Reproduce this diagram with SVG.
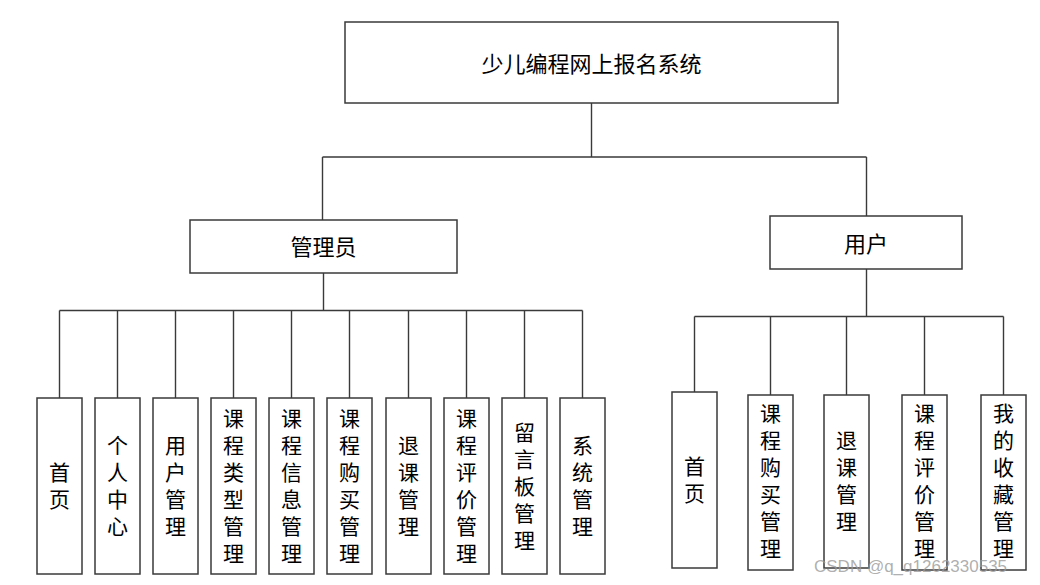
<svg xmlns="http://www.w3.org/2000/svg" width="1040" height="585" viewBox="0 0 1040 585">
<style>
  .box{fill:#ffffff;stroke:#3a3a3a;stroke-width:1.5}
  .ln{fill:none;stroke:#3a3a3a;stroke-width:1.4}
  .t{font-family:"Noto Sans CJK SC","Liberation Sans",sans-serif;font-size:22px;fill:#000;text-anchor:middle;dominant-baseline:central}
  .v{font-family:"Noto Sans CJK SC","Liberation Sans",sans-serif;font-size:21px;fill:#000;text-anchor:middle;writing-mode:vertical-rl;letter-spacing:6px}
  .wm{font-family:"Liberation Sans",Arial,sans-serif;font-size:17px;fill:#9a9a9a;fill-opacity:0.8}
</style>
<rect width="1040" height="585" fill="#ffffff"/>
<g id="connectors">
  <path class="ln" d="M591.5 103 V157 M322.5 157 H866.5 M322.5 157 V220 M866.5 157 V216"/>
  <path class="ln" d="M323.5 273 V310.5 M59.5 310.5 H582.5"/>
  <path class="ln" d="M59.5 310.5 V398 M117.5 310.5 V398 M175.5 310.5 V398 M233.5 310.5 V398 M291.5 310.5 V398 M349.5 310.5 V398 M408.5 310.5 V398 M466.5 310.5 V398 M524.5 310.5 V398 M582.5 310.5 V398"/>
  <path class="ln" d="M866.5 269 V316.5 M694.5 316.5 H1003.5"/>
  <path class="ln" d="M694.5 316.5 V392 M770.5 316.5 V395 M846.5 316.5 V395 M924.5 316.5 V395 M1003.5 316.5 V395"/>
</g>
<g id="root">
  <rect class="box" x="345" y="22" width="493" height="81"/>
  <text class="t" x="591.5" y="62">少儿编程网上报名系统</text>
</g>
<g id="admin">
  <rect class="box" x="190" y="220" width="267" height="53"/>
  <text class="t" x="323.5" y="245">管理员</text>
</g>
<g id="user">
  <rect class="box" x="770" y="216" width="192" height="53"/>
  <text class="t" x="866" y="242">用户</text>
</g>
<g id="a-home">
  <rect class="box" x="37" y="398" width="45" height="176"/>
  <text class="v" x="59.5" y="489">首页</text>
</g>
<g id="a-center">
  <rect class="box" x="95" y="398" width="45" height="176"/>
  <text class="v" x="117.5" y="489">个人中心</text>
</g>
<g id="a-user">
  <rect class="box" x="153" y="398" width="45" height="176"/>
  <text class="v" x="175.5" y="489">用户管理</text>
</g>
<g id="a-coursetype">
  <rect class="box" x="211" y="398" width="45" height="176"/>
  <text class="v" x="233.5" y="489">课程类型管理</text>
</g>
<g id="a-courseinfo">
  <rect class="box" x="269" y="398" width="45" height="176"/>
  <text class="v" x="291.5" y="489">课程信息管理</text>
</g>
<g id="a-purchase">
  <rect class="box" x="327" y="398" width="45" height="176"/>
  <text class="v" x="349.5" y="489">课程购买管理</text>
</g>
<g id="a-refund">
  <rect class="box" x="386" y="398" width="45" height="176"/>
  <text class="v" x="408.5" y="489">退课管理</text>
</g>
<g id="a-review">
  <rect class="box" x="444" y="398" width="45" height="176"/>
  <text class="v" x="466.5" y="489">课程评价管理</text>
</g>
<g id="a-board">
  <rect class="box" x="502" y="398" width="45" height="176"/>
  <text class="v" x="524.5" y="489">留言板管理</text>
</g>
<g id="a-system">
  <rect class="box" x="560" y="398" width="45" height="176"/>
  <text class="v" x="582.5" y="489">系统管理</text>
</g>
<g id="u-home">
  <rect class="box" x="672" y="392" width="45" height="176"/>
  <text class="v" x="694.5" y="483">首页</text>
</g>
<g id="u-purchase">
  <rect class="box" x="748" y="395" width="45" height="175"/>
  <text class="v" x="770.5" y="484">课程购买管理</text>
</g>
<g id="u-refund">
  <rect class="box" x="824" y="395" width="45" height="173"/>
  <text class="v" x="846.5" y="484">退课管理</text>
</g>
<g id="u-review">
  <rect class="box" x="902" y="395" width="45" height="175"/>
  <text class="v" x="924.5" y="484">课程评价管理</text>
</g>
<g id="u-favorite">
  <rect class="box" x="981" y="395" width="45" height="175"/>
  <text class="v" x="1003.5" y="484">我的收藏管理</text>
</g>
<text class="wm" x="814" y="572">CSDN @q_q1262330535</text>
</svg>
